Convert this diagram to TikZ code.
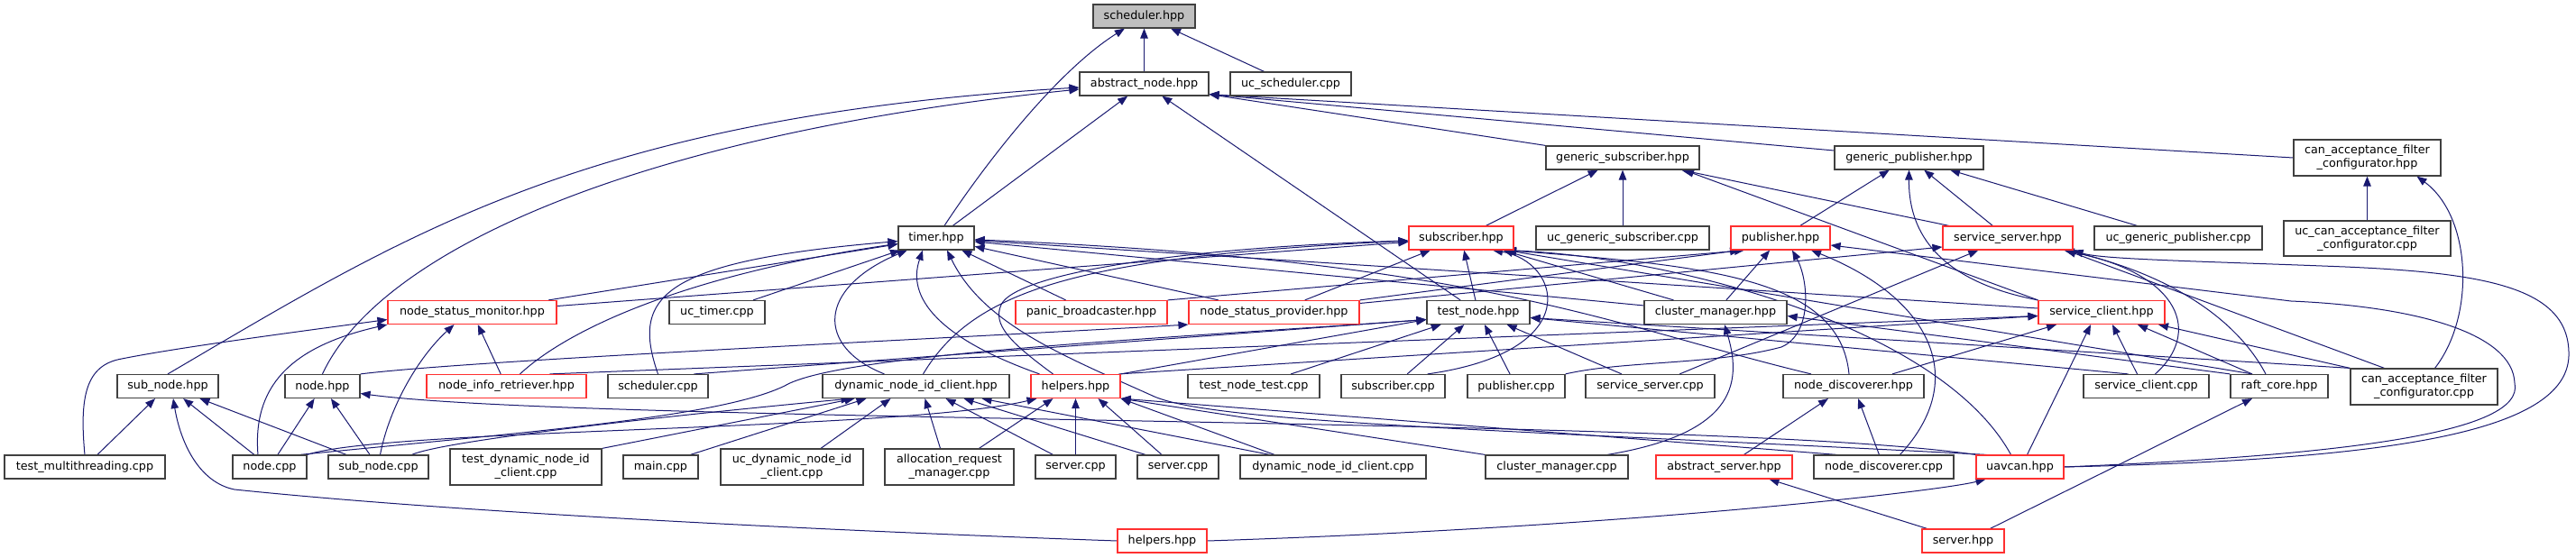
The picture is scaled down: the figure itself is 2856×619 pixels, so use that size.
\documentclass[tikz,border=0pt]{standalone}
\usepackage{fontspec}
\setmainfont{DejaVu Sans}
\usetikzlibrary{arrows.meta}
\definecolor{boxgray}{HTML}{404040}
\definecolor{boxred}{HTML}{FF3030}
\definecolor{edgeblue}{HTML}{191970}
\definecolor{schedfill}{HTML}{BFBFBF}
\pgfdeclarelayer{bgfill}
\pgfdeclarelayer{edges}
\pgfsetlayers{bgfill,edges,main}
\newcommand{\dxfont}{\fontsize{12.8pt}{15pt}\selectfont}
\begin{document}
\begin{tikzpicture}[x=1bp,y=-1bp,
  dbox/.style={draw=boxgray, fill=white, line width=1.2bp, inner sep=0pt, minimum height=26bp, align=center, font=\dxfont, text=black},
  rdbox/.style={dbox, draw=boxred},
  dep/.style={draw=edgeblue, line width=1bp, -{Triangle[length=11bp,width=8.5bp]}}]
\useasboundingbox (0,0) rectangle (2856,619);
\begin{pgfonlayer}{bgfill}
\fill[white] (0,0) rectangle (2856,619);
\end{pgfonlayer}

% row 1-3
\node[dbox, fill=schedfill, minimum width=113bp] (scheduler) at (1268.5,18) {scheduler.hpp};
\node[dbox, minimum width=143bp] (abstractnode) at (1268.5,93) {abstract\_node.hpp};
\node[dbox, minimum width=134bp] (ucscheduler) at (1431,93) {uc\_scheduler.cpp};
\node[dbox, minimum width=170bp] (gensub) at (1799,175) {generic\_subscriber.hpp};
\node[dbox, minimum width=165bp] (genpub) at (2116.5,175) {generic\_publisher.hpp};
\node[dbox, minimum width=163bp, minimum height=40bp] (cafhpp) at (2624.5,175) {can\_acceptance\_filter\\\_configurator.hpp};
% row 4
\node[dbox, minimum width=84bp] (timer) at (1038,264) {timer.hpp};
\node[rdbox, minimum width=116bp] (subscriber) at (1620,264) {subscriber.hpp};
\node[dbox, minimum width=192bp] (ucgensub) at (1799,264) {uc\_generic\_subscriber.cpp};
\node[rdbox, minimum width=110bp] (publisher) at (1974,264) {publisher.hpp};
\node[rdbox, minimum width=144bp] (srvserver) at (2226,264) {service\_server.hpp};
\node[dbox, minimum width=186bp] (ucgenpub) at (2415,264) {uc\_generic\_publisher.cpp};
\node[dbox, minimum width=185bp, minimum height=39bp] (uccaf) at (2624.5,264.5) {uc\_can\_acceptance\_filter\\\_configurator.cpp};
% row 5
\node[rdbox, minimum width=187bp] (nsm) at (523.5,346.5) {node\_status\_monitor.hpp};
\node[dbox, minimum width=106bp] (uctimer) at (795,346.5) {uc\_timer.cpp};
\node[rdbox, minimum width=168bp] (panic) at (1210,346.5) {panic\_broadcaster.hpp};
\node[rdbox, minimum width=189bp] (nsp) at (1412.5,346.5) {node\_status\_provider.hpp};
\node[dbox, minimum width=114bp] (testnode) at (1639,346.5) {test\_node.hpp};
\node[dbox, minimum width=158bp] (clmgr) at (1902,346.5) {cluster\_manager.hpp};
\node[rdbox, minimum width=140bp] (srvclient) at (2330,346.5) {service\_client.hpp};
% row 6
\node[dbox, minimum width=112bp] (subnodehpp) at (186,428.5) {sub\_node.hpp};
\node[dbox, minimum width=83bp] (nodehpp) at (357.5,428.5) {node.hpp};
\node[rdbox, minimum width=177bp] (nir) at (561.5,428.5) {node\_info\_retriever.hpp};
\node[dbox, minimum width=111bp] (schedcpp) at (729.5,428.5) {scheduler.cpp};
\node[dbox, minimum width=207bp] (dynhpp) at (1015.5,428.5) {dynamic\_node\_id\_client.hpp};
\node[rdbox, minimum width=99bp] (helpersA) at (1192.5,428.5) {helpers.hpp};
\node[dbox, minimum width=146bp] (testnodetest) at (1390,428.5) {test\_node\_test.cpp};
\node[dbox, minimum width=115bp] (subcpp) at (1544.5,428.5) {subscriber.cpp};
\node[dbox, minimum width=108bp] (pubcpp) at (1681,428.5) {publisher.cpp};
\node[dbox, minimum width=143bp] (srvservercpp) at (1829.5,428.5) {service\_server.cpp};
\node[dbox, minimum width=156bp] (ndhpp) at (2055,428.5) {node\_discoverer.hpp};
\node[dbox, minimum width=139bp] (srvclientcpp) at (2379.5,428.5) {service\_client.cpp};
\node[dbox, minimum width=108bp] (raft) at (2527,428.5) {raft\_core.hpp};
\node[dbox, minimum width=163bp, minimum height=40bp] (cafcpp) at (2687.5,429) {can\_acceptance\_filter\\\_configurator.cpp};
% row 7
\node[dbox, minimum width=178bp] (testmt) at (94,518) {test\_multithreading.cpp};
\node[dbox, minimum width=82bp] (nodecpp) at (299,518) {node.cpp};
\node[dbox, minimum width=111bp] (subnodecpp) at (419.5,518) {sub\_node.cpp};
\node[dbox, minimum width=168bp, minimum height=40bp] (testdyn) at (583,518) {test\_dynamic\_node\_id\\\_client.cpp};
\node[dbox, minimum width=83bp] (maincpp) at (732.5,518) {main.cpp};
\node[dbox, minimum width=158bp, minimum height=40bp] (ucdyn) at (878,518) {uc\_dynamic\_node\_id\\\_client.cpp};
\node[dbox, minimum width=143bp, minimum height=40bp] (alloc) at (1052.5,518) {allocation\_request\\\_manager.cpp};
\node[dbox, minimum width=89bp] (serverA) at (1192.5,518) {server.cpp};
\node[dbox, minimum width=90bp] (serverB) at (1306,518) {server.cpp};
\node[dbox, minimum width=206bp] (dyncpp) at (1478,518) {dynamic\_node\_id\_client.cpp};
\node[dbox, minimum width=158bp] (clmgrcpp) at (1726,518) {cluster\_manager.cpp};
\node[rdbox, minimum width=151bp] (absserver) at (1911.5,518) {abstract\_server.hpp};
\node[dbox, minimum width=155bp] (ndcpp) at (2088.5,518) {node\_discoverer.cpp};
\node[rdbox, minimum width=97bp] (uavcan) at (2239.5,518) {uavcan.hpp};
% row 8
\node[rdbox, minimum width=99bp] (helpersB) at (1288.5,600) {helpers.hpp};
\node[rdbox, minimum width=91bp] (serverhpp) at (2176.5,600) {server.hpp};

\begin{pgfonlayer}{edges}
% scheduler
\draw[dep] (abstractnode) -- (scheduler);
\draw[dep] (ucscheduler) -- (scheduler);
\draw[dep] ([xshift=9bp]timer.north) .. controls (1090,185) and (1170,80) .. (scheduler);
% abstract_node
\draw[dep] (subnodehpp.north) .. controls (450,260) and (650,130) .. ([yshift=-4bp]abstractnode.west);
\draw[dep] (nodehpp.north) .. controls (420,280) and (700,150) .. ([yshift=-6bp]abstractnode.west);
\draw[dep] (timer) -- (abstractnode);
\draw[dep] (testnode) -- (abstractnode);
\draw[dep] (gensub.north west) -- ([yshift=2bp]abstractnode.south east);
\draw[dep] ([yshift=8bp]genpub.west) -- ([yshift=2bp]abstractnode.south east);
\draw[dep] (cafhpp.west) -- ([yshift=2bp]abstractnode.south east);
% generic subscriber / publisher
\draw[dep] (subscriber) -- (gensub);
\draw[dep] (ucgensub) -- (gensub);
\draw[dep] (srvserver) -- (gensub);
\draw[dep] (srvclient.north west) -- ([xshift=68bp]gensub.south);
\draw[dep] (publisher) -- (genpub);
\draw[dep] (srvserver) -- (genpub);
\draw[dep] (srvclient.north west) .. controls (2140,310) and (2116,250) .. (genpub.south);
\draw[dep] (ucgenpub) -- (genpub);
% can acceptance filter
\draw[dep] (uccaf) -- (cafhpp);
\draw[dep] ([xshift=12bp]cafcpp.north) .. controls (2745,350) and (2740,240) .. ([xshift=55bp]cafhpp.south);
% timer
\draw[dep] (nsm) -- (timer);
\draw[dep] (uctimer) -- (timer);
\draw[dep] (schedcpp.north) .. controls (700,330) and (730,290) .. (timer);
\draw[dep] ([xshift=15bp]nir.north) .. controls (630,365) and (760,305) .. (timer);
\draw[dep] ([xshift=-35bp]dynhpp.north) .. controls (905,385) and (905,320) .. (timer);
\draw[dep] ([xshift=-40bp]helpersA.north) .. controls (1040,375) and (1005,330) .. ([xshift=-15bp]timer.south);
\draw[dep] (panic) -- (timer);
\draw[dep] (nsp) -- (timer);
\draw[dep] (clmgr) -- (timer);
\draw[dep] (srvclient) -- (timer);
\draw[dep] ([xshift=12bp]uavcan.north west) .. controls (1700,478) and (1350,470) .. (1280,440) .. controls (1180,395) and (1090,360) .. ([xshift=12bp]timer.south);
\draw[dep] ([xshift=-47bp]ndhpp.north) .. controls (1780,360) and (1650,290) .. (timer);
% subscriber
\draw[dep] (nsm) -- (subscriber);
\draw[dep] (nsp) -- (subscriber);
\draw[dep] (testnode) -- (subscriber);
\draw[dep] ([xshift=-20bp]subcpp.north east) .. controls (1760,390) and (1730,290) .. ([xshift=35bp]subscriber.south);
\draw[dep] ([xshift=8bp]dynhpp.north) .. controls (1080,320) and (1200,285) .. ([yshift=-3bp]subscriber.west);
\draw[dep] ([xshift=-25bp]helpersA.north) .. controls (1120,380) and (1100,360) .. (1110,338) .. controls (1125,305) and (1300,275) .. ([yshift=-3bp]subscriber.west);
\draw[dep] (clmgr) -- (subscriber);
\draw[dep] ([xshift=-10bp]uavcan.north) .. controls (2150,360) and (1850,285) .. ([xshift=50bp]subscriber.south);
\draw[dep] ([xshift=-30bp]raft.north) -- ([xshift=50bp]subscriber.south);
\draw[dep] ([xshift=-5bp]ndhpp.north) .. controls (2040,310) and (1900,295) .. ([xshift=50bp]subscriber.south);
% publisher
\draw[dep] (panic.north east) -- ([xshift=-40bp]publisher.south);
\draw[dep] (nsp.north east) -- ([xshift=-45bp]publisher.south);
\draw[dep] (clmgr) -- (publisher);
\draw[dep] (pubcpp.north east) .. controls (1800,400) and (1900,405) .. (1975,385) .. controls (2010,370) and (2005,310) .. ([xshift=13bp]publisher.south);
\draw[dep] ([xshift=18bp]ndcpp.north) .. controls (2185,420) and (2140,330) .. ([xshift=34bp]publisher.south);
\draw[dep] (uavcan.east) .. controls (2600,505) and (2800,480) .. (2788,425) .. controls (2786,370) and (2680,340) .. (2540,334) -- ([yshift=-8bp]publisher.east);
% service server
\draw[dep] (uavcan.east) .. controls (2650,510) and (2845,480) .. (2848,395) .. controls (2850,320) and (2760,303) .. (2600,296) .. controls (2450,290) and (2330,288) .. (srvserver.south east);
\draw[dep] ([yshift=10bp]nsp.east) -- ([yshift=-10bp]srvserver.west);
\draw[dep] (srvservercpp) -- (srvserver);
\draw[dep] ([xshift=-15bp]raft.north) .. controls (2475,345) and (2390,300) .. ([xshift=-10bp]srvserver.south east);
\draw[dep] ([xshift=-44bp]cafcpp.north) -- ([xshift=-8bp]srvserver.south east);
\draw[dep] ([xshift=10bp]srvclientcpp.north) .. controls (2440,370) and (2420,305) .. ([xshift=-10bp]srvserver.south east);
% service client
\draw[dep] ([xshift=-10bp]srvclientcpp.north) -- ([xshift=12bp]srvclient.south);
\draw[dep] ([xshift=43bp]ndhpp.north) -- ([xshift=-50bp]srvclient.south);
\draw[dep] ([xshift=8bp]uavcan.north) -- ([xshift=-12bp]srvclient.south);
\draw[dep] ([xshift=-30bp]raft.north) -- ([xshift=40bp]srvclient.south);
\draw[dep] (cafcpp.north west) -- ([xshift=63bp]srvclient.south);
\draw[dep] ([xshift=48bp]nir.north) -- ([yshift=-4bp]srvclient.west);
\draw[dep] ([xshift=48bp]helpersA.north) -- ([yshift=-4bp]srvclient.west);
% cluster manager
\draw[dep] (raft.north west) -- ([yshift=-4bp]clmgr.east);
\draw[dep] ([xshift=56bp]clmgrcpp.north) .. controls (1930,480) and (1930,420) .. ([xshift=10bp]clmgr.south);
% test node
\draw[dep] (testnodetest) -- (testnode);
\draw[dep] (subcpp) -- (testnode);
\draw[dep] (pubcpp) -- (testnode);
\draw[dep] (srvservercpp) -- (testnode);
\draw[dep] ([xshift=40bp]schedcpp.north) -- ([yshift=-8bp]testnode.west);
\draw[dep] ([xshift=-8bp]nodecpp.north east) .. controls (600,478) and (800,462) .. (870,428) .. controls (930,392) and (1300,375) .. ([yshift=-8bp]testnode.west);
\draw[dep] (helpersA.north east) -- ([yshift=-8bp]testnode.west);
\draw[dep] ([xshift=-20bp]srvclientcpp.north) -- ([yshift=-6bp]testnode.east);
\draw[dep] (cafcpp.north west) -- ([yshift=-6bp]testnode.east);
% node status monitor
\draw[dep] (nir) -- (nsm);
\draw[dep] (testmt.north) .. controls (88,440) and (95,405) .. (135,398) .. controls (200,385) and (330,368) .. ([yshift=-8bp]nsm.west);
\draw[dep] ([xshift=-13bp]nodecpp.north) .. controls (280,430) and (320,385) .. (nsm.south west);
\draw[dep] ([xshift=2bp]subnodecpp.north) .. controls (432,450) and (465,395) .. ([xshift=-20bp]nsm.south);
% node.hpp / sub_node.hpp
\draw[dep] (nodecpp) -- (nodehpp);
\draw[dep] (subnodecpp) -- (nodehpp);
\draw[dep] (uavcan.north west) .. controls (1900,462) and (650,470) .. ([yshift=-8bp]nodehpp.east);
\draw[dep] (testmt) -- (subnodehpp);
\draw[dep] (nodecpp) -- (subnodehpp);
\draw[dep] (subnodecpp) -- (subnodehpp);
\draw[dep] (helpersB.west) .. controls (900,588) and (500,568) .. (260,543) .. controls (220,535) and (200,490) .. ([xshift=6bp]subnodehpp.south);
\draw[dep] (helpersB.east) .. controls (1800,585) and (2150,545) .. ([xshift=-38bp]uavcan.south);
% node status provider
\draw[dep] (nodehpp.north east) .. controls (520,400) and (1000,378) .. (nsp.south west);
% server.hpp, abstract_server, node_discoverer
\draw[dep] ([xshift=-40bp]serverhpp.north) -- ([xshift=50bp]absserver.south);
\draw[dep] ([xshift=30bp]serverhpp.north) -- ([xshift=-30bp]raft.south);
\draw[dep] ([xshift=22bp]absserver.north) -- ([xshift=-28bp]ndhpp.south);
\draw[dep] (ndcpp) -- (ndhpp);
% helpers.hpp (upper)
\draw[dep] ([xshift=-52bp]ndcpp.north) -- (helpersA.south east);
\draw[dep] (clmgrcpp.north west) -- (helpersA.south east);
\draw[dep] ([xshift=-65bp]dyncpp.north) -- (helpersA.south east);
\draw[dep] ([xshift=33bp]alloc.north) -- ([xshift=-25bp]helpersA.south);
\draw[dep] (serverA) -- (helpersA);
\draw[dep] ([xshift=-18bp]serverB.north) -- ([xshift=25bp]helpersA.south);
\draw[dep] (nodecpp.north east) .. controls (430,475) and (1000,478) .. ([xshift=-43bp]helpersA.south);
% dynamic_node_id_client.hpp
\draw[dep] ([xshift=-70bp]dyncpp.north) -- ([xshift=73bp]dynhpp.south);
\draw[dep] ([xshift=-10bp]alloc.north) -- ([xshift=10bp]dynhpp.south);
\draw[dep] ([xshift=-25bp]serverA.north) -- ([xshift=33bp]dynhpp.south);
\draw[dep] ([xshift=-36bp]serverB.north) -- ([xshift=53bp]dynhpp.south);
\draw[dep] (testdyn.north east) -- ([xshift=-68bp]dynhpp.south);
\draw[dep] ([xshift=33bp]maincpp.north) -- ([xshift=-55bp]dynhpp.south);
\draw[dep] ([xshift=32bp]ucdyn.north) -- ([xshift=-28bp]dynhpp.south);
\draw[dep] ([xshift=37bp]subnodecpp.north) .. controls (490,490) and (700,465) .. ([xshift=-72bp]dynhpp.south);
\end{pgfonlayer}
\end{tikzpicture}
\end{document}
